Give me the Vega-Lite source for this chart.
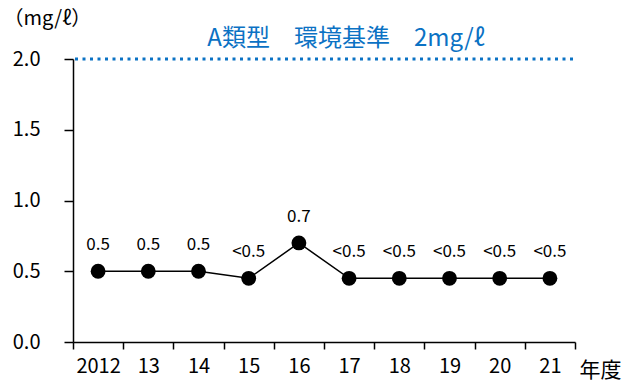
{
  "$schema": "https://vega.github.io/schema/vega-lite/v6.json",
  "autosize": "none",
  "width": 502,
  "height": 283,
  "padding": {"left": 73, "top": 59, "right": 54, "bottom": 41},
  "background": "white",
  "title": {
    "text": "A類型　環境基準　2mg/ℓ",
    "color": "#0B72C4",
    "font": "Noto Sans CJK JP",
    "fontSize": 24,
    "fontWeight": "normal",
    "dx": 22,
    "dy": 49,
    "offset": 6
  },
  "config": {
    "view": {"stroke": null},
    "font": "Noto Sans CJK JP",
    "axis": {
      "grid": false,
      "domainColor": "black",
      "tickColor": "black",
      "labelColor": "black",
      "titleColor": "black",
      "labelFont": "Noto Sans CJK JP",
      "titleFont": "Noto Sans CJK JP",
      "labelFontSize": 20,
      "titleFontSize": 19,
      "titleFontWeight": "normal",
      "domainWidth": 1.5,
      "tickWidth": 1.5
    }
  },
  "data": {
    "values": [
      {"year": "2012", "value": 0.5, "label": "0.5"},
      {"year": "13", "value": 0.5, "label": "0.5"},
      {"year": "14", "value": 0.5, "label": "0.5"},
      {"year": "15", "value": 0.45, "label": "<0.5"},
      {"year": "16", "value": 0.7, "label": "0.7"},
      {"year": "17", "value": 0.45, "label": "<0.5"},
      {"year": "18", "value": 0.45, "label": "<0.5"},
      {"year": "19", "value": 0.45, "label": "<0.5"},
      {"year": "20", "value": 0.45, "label": "<0.5"},
      {"year": "21", "value": 0.45, "label": "<0.5"}
    ]
  },
  "encoding": {
    "x": {
      "field": "year",
      "type": "ordinal",
      "sort": null,
      "scale": {"type": "band", "paddingInner": 0, "paddingOuter": 0},
      "axis": {
        "title": "年度",
        "titleFontSize": 21,
        "labelAngle": 0,
        "tickBand": "extent",
        "tickSize": 7,
        "labelPadding": 7,
        "titleX": 506,
        "titleY": 28,
        "titleAlign": "left",
        "titleBaseline": "middle",
        "titleAnchor": null
      }
    },
    "y": {
      "field": "value",
      "type": "quantitative",
      "scale": {"domain": [0, 2], "nice": false},
      "axis": {
        "title": "（mg/ℓ）",
        "titleFontSize": 20,
        "values": [0, 0.5, 1, 1.5, 2],
        "format": ".1f",
        "tickSize": 9,
        "labelPadding": 24,
        "titleAngle": 0,
        "titleX": -70,
        "titleY": -41,
        "titleAlign": "left",
        "titleBaseline": "middle"
      }
    }
  },
  "layer": [
    {
      "data": {"values": [{"std": 2}]},
      "mark": {"type": "rule", "color": "#0B72C4", "strokeWidth": 3, "strokeDash": [3, 4.5]},
      "encoding": {"y": {"field": "std", "type": "quantitative"}, "x": {"value": 2}, "x2": {"value": 502}}
    },
    {
      "mark": {"type": "line", "color": "black", "strokeWidth": 1.5}
    },
    {
      "mark": {"type": "point", "filled": true, "color": "black", "size": 220, "opacity": 1}
    },
    {
      "mark": {"type": "text", "dy": -26, "fontSize": 17, "color": "black", "font": "Noto Sans CJK JP"},
      "encoding": {"text": {"field": "label"}}
    }
  ]
}
